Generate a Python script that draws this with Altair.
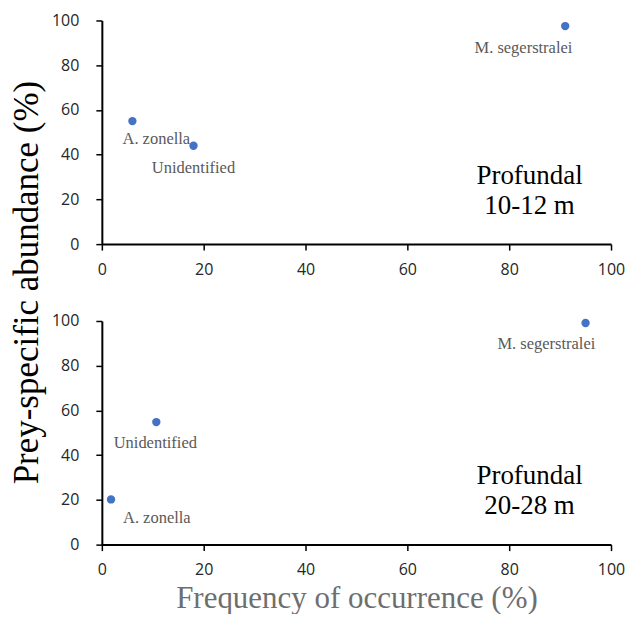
import altair as alt
import pandas as pd

# ---- data ----
panels = ["top", "top", "top", "bottom", "bottom", "bottom"]
species = ["A. zonella", "Unidentified", "M. segerstralei",
           "A. zonella", "Unidentified", "M. segerstralei"]
freq = [6.0, 18.0, 91.0, 1.8, 10.7, 95.0]
abund = [55.0, 44.0, 97.5, 20.2, 54.8, 99.1]
# label anchor positions (data units)
label_x = [10.7, 18.0, 82.8, 10.8, 10.5, 87.3]
label_y = [44.6, 32.0, 85.5, 9.8, 43.1, 87.4]

panel_names = ["top", "bottom"]
panel_text = ["Profundal\n10-12 m", "Profundal\n20-28 m"]
panel_text_x = [84.0, 84.0]
panel_text_y = [26.7, 27.2]

x_ticks = [0, 20, 40, 60, 80, 100]
y_ticks = [0, 20, 40, 60, 80, 100]

df = pd.DataFrame({"panel": panels, "species": species, "freq": freq,
                   "abund": abund, "lx": label_x, "ly": label_y})
pdf = pd.DataFrame({"panel": panel_names, "txt": panel_text,
                    "px": panel_text_x, "py": panel_text_y})

SERIF = "Liberation Serif"
SANS = "Open Sans"
W, H = 510, 224


def panel_chart(name, top):
    d = df[df.panel == name]
    p = pdf[pdf.panel == name]
    if top:
        xaxis = alt.Axis(values=x_ticks, title=None)
        yaxis = alt.Axis(values=y_ticks, title="Prey-specific abundance (%)",
                         titleFont=SERIF, titleFontSize=35, titleFontWeight="normal",
                         titleColor="black", titleAngle=-90, titleAlign="center",
                         titleBaseline="alphabetic", titleX=-64, titleY=262)
    else:
        xaxis = alt.Axis(values=x_ticks, title="Frequency of occurrence (%)",
                         titleFont=SERIF, titleFontSize=31, titleFontWeight="normal",
                         titleColor="#6e6e6e", titleBaseline="alphabetic",
                         titleY=63, titleX=W / 2)
        yaxis = alt.Axis(values=y_ticks, title=None)
    xs = alt.Scale(domain=[0, 100], nice=False, zero=False)
    ys = alt.Scale(domain=[0, 100], nice=False, zero=False)

    pts = alt.Chart(d).mark_circle(size=70, color="#4472C4", opacity=1).encode(
        x=alt.X("freq:Q", scale=xs, axis=xaxis),
        y=alt.Y("abund:Q", scale=ys, axis=yaxis),
    )
    labels = alt.Chart(d).mark_text(font=SERIF, fontSize=16.5, color="#595959",
                                    align="center", baseline="alphabetic").encode(
        x=alt.X("lx:Q", scale=xs), y=alt.Y("ly:Q", scale=ys), text="species:N")
    ptxt = alt.Chart(p).mark_text(font=SERIF, fontSize=27, color="black",
                                  align="center", baseline="alphabetic",
                                  lineBreak="\n", lineHeight=30).encode(
        x=alt.X("px:Q", scale=xs), y=alt.Y("py:Q", scale=ys), text="txt:N")
    return alt.layer(pts, labels, ptxt).properties(width=W, height=H)


chart = alt.vconcat(panel_chart("top", True), panel_chart("bottom", False),
                    spacing=77, bounds="flush").properties(
    padding={"left": 1, "top": 4, "right": 0, "bottom": 0}
).configure(background="white").configure_view(stroke=None).configure_axis(
    grid=False, domainColor="black", domainWidth=2, tickColor="black",
    tickWidth=1.5, tickSize=6, labelFont=SANS, labelFontSize=16,
    labelColor="#262626", labelFlush=False
).configure_axisX(labelPadding=11).configure_axisY(labelPadding=17)

chart.save("out.html", embed_options={"renderer": "svg", "actions": False})
